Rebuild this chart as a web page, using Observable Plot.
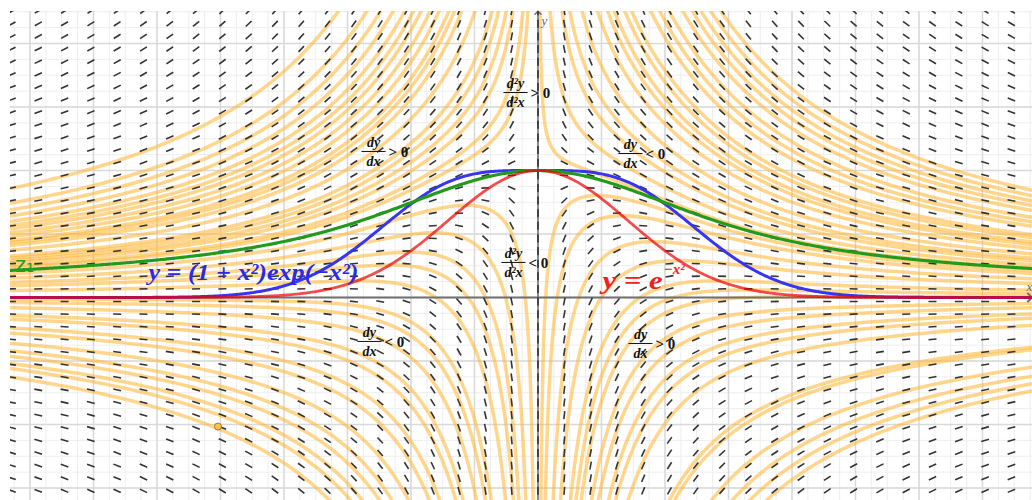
<!DOCTYPE html>
<html><head><meta charset="utf-8">
<script src="https://cdn.jsdelivr.net/npm/d3@7"></script>
<script src="https://cdn.jsdelivr.net/npm/@observablehq/plot@0.6"></script>
<style>html,body{margin:0;padding:0;background:#fff;} #chart svg{display:block}</style>
</head><body><div id="chart"></div>
<script>
// ---- view (data units: 1 unit = 127 px on both axes) ----
const xDomain = [-4.1535, 3.8937];
const yDomain = [-1.5984, 2.252];

// ---- slope field grid (x*y' + y = exp(-x^2)) ----
const fieldStepX = 0.2071;
const fieldStepY = 0.0994;
const fieldOffsetY = -0.0315;
const fieldCols = d3.range(-20, 19);
const fieldRows = d3.range(-15, 24);

// ---- constants C of the traced solutions y = (F(x) + C) / x ----
const leftBranchC = [-2.68, -2.2, -1.98, -1.78, -1.6, -1.47, -1.36, -1.23, -1.11, -0.98, -0.91, -0.82, -0.66, -0.47, -0.4, -0.32, -0.25, -0.15, -0.1, 0.1, 0.25, 0.39, 0.5, 0.66, 0.94, 1.05, 1.22, 1.47, 1.6, 1.88, 2.05, 2.38, 2.63, 2.81, 3.05, 3.21, 3.49];
const rightBranchC = [2.4, 2.23, 2.07, 1.93, 1.78, 1.57, 1.43, 1.3, 1.04, 0.95, 0.82, 0.74, 0.62, 0.45, 0.32, 0.24, 0.12, 0.02, -0.06, -0.15, -0.31, -0.46, -0.66, -0.77, -0.87, -1.07, -1.2, -1.39, -1.52, -1.74, -2.41, -2.49, -3.02, -3.3, -3.53, -3.75];

// traced point
const tracePoint = [{x: -2.52, y: -1.016}];

// ---- grid ----
const majorGrid = d3.range(-9, 9).map(i => i * 0.5);
const minorGrid = d3.range(-34, 33).map(i => i * 0.125);

// ---- annotations ----
const fracLabels = [
  {x: -0.177, y: 1.614, num: "d²y", den: "d²x", rel: "> 0"},
  {x: -1.295, y: 1.150, num: "dy", den: "dx", rel: "> 0"},
  {x: 0.728, y: 1.134, num: "dy", den: "dx", rel: "< 0"},
  {x: -0.193, y: 0.276, num: "d²y", den: "d²x", rel: "< 0"},
  {x: -1.327, y: -0.346, num: "dy", den: "dx", rel: "< 0"},
  {x: 0.807, y: -0.362, num: "dy", den: "dx", rel: "> 0"}
];
const blueLabel = [{x: -3.067, y: 0.2, text: "y = (1 + x²)exp(−x²)"}];
const redLabel = [{x: 0.508, y: 0.13, text: "y = e"}];
const redSup = [{x: 0.99, y: 0.222, text: "−x²"}];
const greenLabel = [{x: -4.118, y: 0.25, text: "z₁"}];
const axisLabels = [{x: 0.05, y: 2.18, text: "y"}, {x: 3.87, y: 0.085, text: "x"}];

// ---- math helpers ----
function F(x) { // integral_0^x exp(-t^2) dt (Simpson)
  const n = 32, h = x / n;
  let s = 1 + Math.exp(-x * x);
  for (let i = 1; i < n; i++) { const t = i * h; s += (i % 2 ? 4 : 2) * Math.exp(-t * t); }
  return s * h / 3;
}
const NS = 900;
const xsLeft = d3.range(NS).map(i => -Math.exp(Math.log(4.3) + (Math.log(2e-4) - Math.log(4.3)) * i / (NS - 1)));
const xsRight = d3.range(NS).map(i => Math.exp(Math.log(4.1) + (Math.log(2e-4) - Math.log(4.1)) * i / (NS - 1)));

const orangePts = [];
leftBranchC.forEach((C, i) => { for (const x of xsLeft) { const y = (F(x) + C) / x; if (Math.abs(y) < 8) orangePts.push({id: "L" + i, x, y}); } });
rightBranchC.forEach((C, i) => { for (const x of xsRight) { const y = (F(x) + C) / x; if (Math.abs(y) < 8) orangePts.push({id: "R" + i, x, y}); } });

const xsFull = d3.range(-4.2, 3.95, 0.01);
const redPts = xsFull.map(x => ({x, y: Math.exp(-x * x)}));
const bluePts = xsFull.map(x => ({x, y: (1 + x * x) * Math.exp(-x * x)}));
const greenPts = xsFull.map(x => ({x, y: Math.abs(x) < 1e-6 ? 1 : F(x) / x}));

const half = 4 / 127;
const segs = [];
for (const k of fieldCols) for (const j of fieldRows) {
  const x = k * fieldStepX, y = fieldOffsetY + j * fieldStepY;
  let a;
  if (k === 0) a = Math.PI / 2; else a = Math.atan((Math.exp(-x * x) - y) / x);
  segs.push({x1: x - half * Math.cos(a), y1: y - half * Math.sin(a), x2: x + half * Math.cos(a), y2: y + half * Math.sin(a)});
}
const fracBars = fracLabels.map(d => ({x1: d.x - 0.095, x2: d.x + 0.095, y: d.y}));

const mathFont = "Liberation Serif, DejaVu Serif, serif";

const plot = Plot.plot({
  width: 1032, height: 500,
  marginLeft: 10, marginRight: 0, marginTop: 11, marginBottom: 0,
  x: {domain: xDomain, axis: null},
  y: {domain: yDomain, axis: null},
  marks: [
    Plot.ruleX(minorGrid, {stroke: "#eeeeee", strokeWidth: 1}),
    Plot.ruleY(minorGrid, {stroke: "#eeeeee", strokeWidth: 1}),
    Plot.ruleX(majorGrid, {stroke: "#d9d9d9", strokeWidth: 1.5}),
    Plot.ruleY(majorGrid, {stroke: "#d9d9d9", strokeWidth: 1.5}),
    Plot.line(orangePts, {x: "x", y: "y", z: "id", stroke: "#ffb52e", strokeOpacity: 0.55, strokeWidth: 3.5, clip: true}),
    Plot.link([{x1: xDomain[0], x2: xDomain[1] - 0.02, y: 0}], {x1: "x1", x2: "x2", y1: "y", y2: "y", stroke: "#707070", strokeWidth: 2, markerEnd: "arrow"}),
    Plot.link([{y1: yDomain[0], y2: yDomain[1] - 0.01, x: 0}], {y1: "y1", y2: "y2", x1: "x", x2: "x", stroke: "#707070", strokeWidth: 1.5, markerEnd: "arrow"}),
    Plot.link(segs, {x1: "x1", y1: "y1", x2: "x2", y2: "y2", stroke: "#333333", strokeWidth: 1.6, clip: true}),
    Plot.line(bluePts, {x: "x", y: "y", stroke: "#3535f2", strokeWidth: 3, clip: true}),
    Plot.line(greenPts, {x: "x", y: "y", stroke: "#239a1c", strokeWidth: 3.2, clip: true}),
    Plot.line(redPts, {x: "x", y: "y", stroke: "#ef0000", strokeOpacity: 0.7, strokeWidth: 2.8, clip: true}),
    Plot.dot(tracePoint, {x: "x", y: "y", r: 3.5, fill: "#ffc04d", stroke: "#8a6a20", strokeWidth: 0.8}),
    Plot.text(fracLabels, {x: "x", y: "y", text: "num", dy: -9, fontFamily: mathFont, fontStyle: "italic", fontWeight: "bold", fontSize: 14, fill: "#111"}),
    Plot.text(fracLabels, {x: "x", y: "y", text: "den", dy: 10, fontFamily: mathFont, fontStyle: "italic", fontWeight: "bold", fontSize: 14, fill: "#111"}),
    Plot.link(fracBars, {x1: "x1", x2: "x2", y1: "y", y2: "y", stroke: "#111", strokeWidth: 1}),
    Plot.text(fracLabels, {x: "x", y: "y", text: "rel", dx: 15, dy: 1, textAnchor: "start", fontFamily: mathFont, fontWeight: "bold", fontSize: 15, fill: "#111"}),
    Plot.text(blueLabel, {x: "x", y: "y", text: "text", textAnchor: "start", fontFamily: mathFont, fontStyle: "italic", fontWeight: "bold", fontSize: 24, fill: "#2a2ae8", className: "blue-label"}),
    Plot.text(redLabel, {x: "x", y: "y", text: "text", textAnchor: "start", fontFamily: mathFont, fontStyle: "italic", fontWeight: "bold", fontSize: 25, fill: "#ee2020", className: "red-label"}),
    Plot.text(redSup, {x: "x", y: "y", text: "text", textAnchor: "start", fontFamily: mathFont, fontStyle: "italic", fontWeight: "bold", fontSize: 15, fill: "#ee2020"}),
    Plot.text(greenLabel, {x: "x", y: "y", text: "text", textAnchor: "start", fontFamily: "DejaVu Sans, sans-serif", fontSize: 21, fill: "#2a9d20"}),
    Plot.text(axisLabels, {x: "x", y: "y", text: "text", fontFamily: mathFont, fontStyle: "italic", fontSize: 13, fill: "#666"})
  ]
});
d3.select(plot).selectAll(".blue-label text").attr("textLength", 210).attr("lengthAdjust", "spacingAndGlyphs");
d3.select(plot).selectAll(".red-label text").attr("textLength", 60).attr("lengthAdjust", "spacingAndGlyphs");
document.getElementById("chart").appendChild(plot);
</script>
</body></html>
